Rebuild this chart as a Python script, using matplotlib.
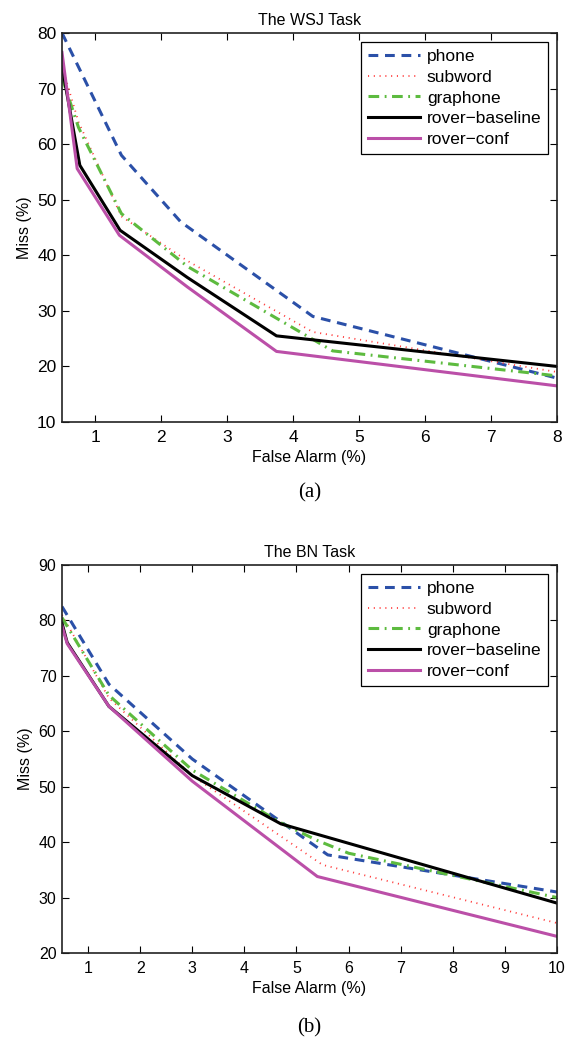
import matplotlib
matplotlib.use("Agg")
from matplotlib import pyplot as plt

plt.rcParams['font.family'] = ['Liberation Sans', 'DejaVu Sans']

labels = ['phone', 'subword', 'graphone', 'rover\u2212baseline', 'rover\u2212conf']

# WSJ task (a)
wsj_x = {
    'phone':    [0.5, 1.4, 2.3, 4.3, 8.0],
    'subword':  [0.5, 0.75, 1.4, 2.4, 4.3, 8.0],
    'graphone': [0.5, 0.75, 1.4, 2.4, 4.6, 8.0],
    'baseline': [0.5, 0.77, 1.38, 2.4, 3.75, 8.0],
    'conf':     [0.5, 0.73, 1.37, 2.4, 3.75, 8.0],
}
wsj_y = {
    'phone':    [80, 58, 46, 29, 17.9],
    'subword':  [74, 64, 47, 39, 26.2, 19.0],
    'graphone': [72, 63, 47.5, 38, 22.8, 18.3],
    'baseline': [74, 56.2, 44.5, 36, 25.5, 20.0],
    'conf':     [76.5, 55.6, 43.6, 34.3, 22.7, 16.5],
}

# BN task (b)
bn_x = {
    'phone':    [0.5, 1.4, 3.0, 5.6, 10.0],
    'subword':  [0.5, 1.4, 3.0, 5.5, 10.0],
    'graphone': [0.5, 1.4, 3.0, 4.7, 5.4, 6.0, 10.0],
    'baseline': [0.5, 0.6, 1.4, 3.0, 4.7, 10.0],
    'conf':     [0.5, 0.6, 1.4, 3.0, 5.4, 10.0],
}
bn_y = {
    'phone':    [82.5, 68.5, 55, 37.7, 31.0],
    'subword':  [81, 66, 52, 35.9, 25.4],
    'graphone': [80.5, 66.5, 53, 43.5, 40.3, 38, 30.0],
    'baseline': [79.5, 76, 64.5, 52, 43.3, 29.0],
    'conf':     [79, 75.8, 64.5, 51, 33.8, 23.0],
}

keys = ['phone', 'subword', 'graphone', 'baseline', 'conf']
styles = {
    'phone':    dict(color='#2b50a8', ls=(0, (3.2, 2.2)), lw=2.2),
    'subword':  dict(color='#ff3b3b', ls=(0, (0.6, 2.6)), lw=1.3),
    'graphone': dict(color='#5dbb3f', ls=(0, (3.5, 1.8, 0.6, 1.8)), lw=2.2),
    'baseline': dict(color='black', ls='-', lw=2.2),
    'conf':     dict(color='#bb4fa8', ls='-', lw=2.2),
}

W, H = 566, 1044
fig = plt.figure(figsize=(W / 100, H / 100), dpi=100)


def panel(rect, xs, ys, xlim, ylim, xticks, yticks, title, tag, tag_y, tsize):
    ax = fig.add_axes(rect)
    for k, lab in zip(keys, labels):
        ax.plot(xs[k], ys[k], label=lab, **styles[k])
    ax.set_xlim(*xlim)
    ax.set_ylim(*ylim)
    ax.set_xticks(xticks)
    ax.set_yticks(yticks)
    ax.tick_params(direction='in', top=True, right=True, labelsize=tsize,
                   length=5, width=0.8, pad=4)
    ax.tick_params(axis='x', pad=6)
    for s in ax.spines.values():
        s.set_linewidth(1.2)
        s.set_color('#222222')
    ax.set_title(title, fontsize=11.5, pad=6)
    ax.set_xlabel('False Alarm (%)', fontsize=11.5, labelpad=3)
    ax.set_ylabel('Miss (%)', fontsize=11.5, labelpad=4)
    leg = ax.legend(loc='upper right', fontsize=12.5, fancybox=False, framealpha=1,
                    edgecolor='black', handlelength=3.0, borderpad=0.4,
                    labelspacing=0.33, handletextpad=0.4, borderaxespad=0.5)
    leg.get_frame().set_linewidth(0.9)
    fig.text(rect[0] + rect[2] / 2, tag_y, tag, ha='center', va='center',
             fontsize=15, family='Liberation Serif')
    return ax


panel([62 / W, 1 - 422 / H, 495 / W, 389 / H], wsj_x, wsj_y, (0.5, 8), (10, 80),
      range(1, 9), range(10, 81, 10), 'The WSJ Task', '(a)', 1 - 493 / H, 12.5)
panel([62 / W, 1 - 953 / H, 495 / W, 388 / H], bn_x, bn_y, (0.5, 10), (20, 90),
      range(1, 11), range(20, 91, 10), 'The BN Task', '(b)', 1 - 1028 / H, 11.5)

fig.savefig('out.png', dpi=100)
